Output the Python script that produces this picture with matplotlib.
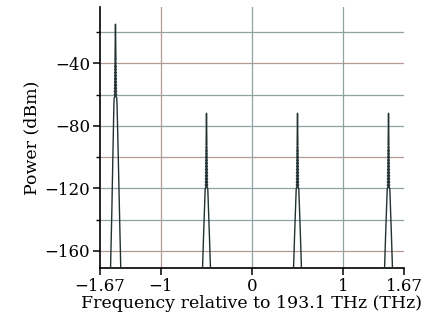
import matplotlib
matplotlib.use("Agg")
import matplotlib.pyplot as plt

# carrier centres relative to 193.1 THz
centres = [-1.5, -0.5, 0.5, 1.5]

# main (strong) carrier: offset from centre (THz) and power (dBm)
main_offset = [-0.056, -0.040, -0.028, -0.018, -0.014,
               0.013, -0.013, 0.012, -0.012, 0.011, -0.011, 0.010, -0.010,
               0.009, -0.009, 0.007, -0.005, 0.0,
               0.005, -0.007, 0.009, -0.009, 0.010, -0.010, 0.011, -0.011,
               0.012, -0.012, 0.013, -0.013,
               0.014, 0.018, 0.030, 0.044, 0.060]
main_power = [-176, -135, -98, -68, -62,
              -60, -58, -56, -54, -52, -50, -48, -46,
              -44, -42, -40, -38, -15,
              -38, -40, -42, -44, -46, -48, -50, -52,
              -54, -56, -58, -60,
              -62, -68, -98, -135, -176]

# weak sidebands: offset from centre (THz) and power (dBm)
side_offset = [-0.046, -0.032, -0.020, -0.014,
               0.013, -0.013, 0.012, -0.012, 0.011, -0.011, 0.010, -0.010,
               0.009, -0.009, 0.008, -0.008, 0.006, -0.004, 0.0,
               0.004, -0.006, 0.008, -0.008, 0.009, -0.009, 0.010, -0.010,
               0.011, -0.011, 0.012, -0.012, 0.013, -0.013,
               0.014, 0.020, 0.032, 0.046]
side_power = [-176, -150, -130, -120,
              -118, -116, -114, -112, -110, -108, -106, -104,
              -102, -100, -98, -96, -94, -92, -72,
              -92, -94, -96, -98, -100, -102, -104, -106,
              -108, -110, -112, -114, -116, -118,
              -120, -130, -150, -176]

xticks = [-1.67, -1, 0, 1, 1.67]
xtick_labels = ["\u22121.67", "\u22121", "0", "1", "1.67"]
yticks_major = [-40, -80, -120, -160]
yticks_minor = [-20, -60, -100, -140]
grid_levels = [-20, -40, -60, -80, -100, -120, -140, -160]
grid_freqs = [-1, 0, 1]

plt.rcParams["font.family"] = "DejaVu Serif"

fig = plt.figure(figsize=(4.29, 3.31), dpi=100)
ax = fig.add_axes([0.2331, 0.1903, 0.7086, 0.7886])

teal = "#8fa3a1"
rust = "#b39a94"
for i, lvl in enumerate(grid_levels):
    ax.axhline(lvl, color=teal if i % 3 != 1 else rust, lw=0.9, zorder=0)
for i, f in enumerate(grid_freqs):
    ax.axvline(f, color=rust if i == 0 else teal, lw=0.9, zorder=0)

for k, c in enumerate(centres):
    if k == 0:
        xs = [c + o for o in main_offset]
        ys = main_power
    else:
        xs = [c + o for o in side_offset]
        ys = side_power
    ax.plot(xs, ys, color="#223131", lw=1.0, zorder=3)

ax.set_xlim(-1.67, 1.67)
ax.set_ylim(-171, -4)
ax.set_xticks(xticks)
ax.set_xticklabels(xtick_labels)
ax.set_yticks(yticks_major)
ax.set_yticklabels(["\u2212%d" % abs(v) for v in yticks_major])
ax.set_yticks(yticks_minor, minor=True)

for side in ["top", "right"]:
    ax.spines[side].set_visible(False)
for side in ["left", "bottom"]:
    ax.spines[side].set_linewidth(1.2)

ax.tick_params(axis="both", which="major", direction="out", length=5,
               width=1.1, labelsize=12, pad=2)
ax.tick_params(axis="y", which="minor", direction="out", length=3, width=1.0)

ax.set_xlabel("Frequency relative to 193.1 THz (THz)", fontsize=12.5, labelpad=0)
ax.set_ylabel("Power (dBm)", fontsize=12.5, labelpad=3)

fig.savefig("out.png", dpi=100)
